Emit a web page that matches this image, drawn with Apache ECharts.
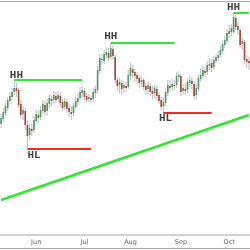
<!DOCTYPE html>
<html>
<head>
<meta charset="utf-8">
<script src="https://cdn.jsdelivr.net/npm/echarts@6/dist/echarts.min.js"></script>
<style>
  html, body { margin: 0; padding: 0; background: #fff; }
  #chart { width: 250px; height: 250px; }
</style>
</head>
<body>
<div id="chart"></div>
<script>
// trading days, starting from this date (weekdays only)
var startDate = '2022-05-10';
var dayCount = 114;
var monthNames = ['Jan', 'Feb', 'Mar', 'Apr', 'May', 'Jun', 'Jul', 'Aug', 'Sep', 'Oct', 'Nov', 'Dec'];

var opens = [111, 116, 122, 127, 134, 138, 143, 147, 145, 131, 121, 124, 110, 100, 106, 105, 114, 120, 118, 124,
  130, 124, 131, 136, 135, 139, 136, 139, 133, 128, 133, 127, 123, 122, 128, 133, 137, 142, 144, 139,
  136, 137, 136, 142, 145, 164, 176, 174, 180, 182, 178, 186, 178, 155, 150, 152, 147, 149, 148, 159,
  166, 163, 160, 157, 153, 155, 149, 146, 149, 144, 142, 146, 140, 135, 129, 132, 142, 149, 148, 150,
  150, 158, 159, 144, 146, 145, 152, 154, 151, 140, 146, 156, 159, 164, 163, 169, 172, 168, 174, 177,
  180, 184, 190, 194, 201, 203, 203, 217, 209, 205, 191, 193, 176, 174];
var closes = [117, 123, 129, 135, 139, 143, 147, 144, 130, 120, 125, 110, 99, 107, 104, 115, 121, 117, 125, 131,
  123, 132, 137, 134, 140, 135, 140, 132, 127, 134, 126, 123, 121, 129, 134, 137, 143, 145, 138, 135,
  138, 135, 143, 146, 165, 177, 175, 181, 183, 177, 187, 179, 155, 149, 153, 146, 150, 147, 160, 167,
  162, 159, 156, 152, 155, 148, 145, 150, 143, 141, 147, 139, 134, 128, 133, 143, 150, 147, 151, 149,
  159, 160, 143, 147, 144, 153, 155, 151, 139, 147, 157, 160, 165, 162, 170, 171, 167, 175, 178, 180,
  185, 191, 195, 202, 204, 207, 218, 208, 205, 190, 194, 175, 173, 172];
var lows = [107, 113, 119, 124, 131, 135, 140, 138, 127, 117, 115, 105, 87, 95, 99, 102, 111, 112, 115, 121,
  119, 120, 127, 129, 131, 132, 133, 129, 124, 125, 122, 118, 115, 119, 126, 129, 134, 137, 135, 132,
  133, 132, 133, 137, 142, 161, 170, 171, 177, 174, 175, 175, 152, 143, 142, 140, 142, 143, 146, 155,
  157, 153, 151, 147, 148, 145, 140, 141, 139, 136, 137, 135, 131, 125, 122, 129, 139, 143, 144, 145,
  147, 153, 139, 140, 141, 142, 148, 145, 135, 135, 144, 153, 157, 158, 160, 165, 163, 165, 172, 174,
  178, 181, 187, 191, 197, 199, 201, 205, 200, 187, 185, 171, 167, 165];
var highs = [121, 127, 132, 138, 143, 147, 155, 152, 147, 135, 129, 127, 115, 111, 111, 119, 125, 124, 129, 135,
  134, 136, 141, 140, 144, 143, 144, 142, 136, 137, 136, 131, 129, 132, 138, 141, 148, 149, 147, 142,
  141, 140, 147, 149, 169, 181, 181, 185, 188, 187, 192, 190, 180, 158, 157, 155, 154, 153, 165, 172,
  170, 166, 163, 160, 158, 157, 152, 153, 152, 149, 150, 149, 143, 138, 137, 147, 155, 155, 156, 155,
  163, 164, 161, 151, 151, 157, 160, 158, 154, 151, 161, 167, 169, 168, 174, 177, 176, 179, 181, 184,
  189, 195, 199, 206, 210, 211, 222, 220, 213, 207, 197, 195, 180, 178];

// swing labels: text, day index, value
var swingNames = ['HH', 'HL', 'HH', 'HL', 'HH'];
var swingIdx = [7, 15, 50, 75, 106];
var swingVals = [160, 80, 199, 117, 228];

// horizontal swing levels: start index, end index, value
var highLevels = [[6, 37, 155], [50, 79, 192], [106, 113, 222]];
var lowLevels = [[12, 41, 86], [74, 96, 122]];
// rising trend line: [index, value] at both ends
var trendLine = [[0, 35], [113, 120]];

var dates = [];
var d = new Date(startDate + 'T00:00:00Z');
while (dates.length < dayCount) {
  var wd = d.getUTCDay();
  if (wd !== 0 && wd !== 6) dates.push(d.toISOString().slice(0, 10));
  d.setUTCDate(d.getUTCDate() + 1);
}
var monthStart = dates.map(function (s, i) {
  return i > 0 && s.slice(5, 7) !== dates[i - 1].slice(5, 7);
});

var upColor = '#4f9a68';
var downColor = '#a9493d';

var myChart = echarts.init(document.getElementById('chart'));

var candles = opens.map(function (o, i) {
  return [i, o, closes[i], lows[i], highs[i]];
});

function levelSeries(lv, color) {
  return lv.map(function (l) {
    return {
      type: 'line',
      data: [[l[0], l[2]], [l[1], l[2]]],
      symbol: 'none',
      silent: true,
      lineStyle: { color: color, width: 2 },
      z: 3
    };
  });
}

var option = {
  animation: false,
  grid: { left: 0, right: 0, top: 1, bottom: 15 },
  xAxis: [
    {
      type: 'category',
      data: dates,
      boundaryGap: true,
      axisLine: { lineStyle: { color: '#d2d2d2', width: 2 } },
      axisTick: {
        alignWithLabel: true,
        length: 2,
        interval: function (i) { return monthStart[i]; },
        lineStyle: { color: '#999' }
      },
      axisLabel: {
        interval: function (i) { return monthStart[i]; },
        formatter: function (v) { return monthNames[+v.slice(5, 7) - 1]; },
        fontSize: 6.5,
        color: '#666',
        margin: 4,
        fontFamily: 'DejaVu Sans'
      },
      splitLine: { show: false }
    },
    {
      type: 'category',
      position: 'top',
      data: dates,
      axisLine: { lineStyle: { color: '#aaa', width: 1 } },
      axisTick: { show: false },
      axisLabel: { show: false }
    }
  ],
  yAxis: { type: 'value', min: 0, max: 234, show: false },
  graphic: [{
    type: 'line',
    shape: { x1: 0, y1: 248.5, x2: 250, y2: 248.5 },
    style: { stroke: '#aaa', lineWidth: 1 }
  }],
  series: [
    {
      type: 'custom',
      data: candles,
      encode: { x: 0, y: [1, 2, 3, 4] },
      renderItem: function (params, api) {
        var x = api.value(0);
        var o = api.coord([x, api.value(1)]);
        var c = api.coord([x, api.value(2)]);
        var lo = api.coord([x, api.value(3)]);
        var hi = api.coord([x, api.value(4)]);
        var w = api.size([1, 0])[0] * 0.75;
        var up = api.value(2) >= api.value(1);
        return {
          type: 'group',
          children: [
            { type: 'line', shape: { x1: o[0], y1: hi[1], x2: o[0], y2: lo[1] }, style: { stroke: '#bdbdbd', lineWidth: 1 } },
            {
              type: 'rect',
              shape: { x: o[0] - w / 2, y: Math.min(o[1], c[1]), width: w, height: Math.max(Math.abs(o[1] - c[1]), 1) },
              style: { fill: up ? upColor : downColor }
            }
          ]
        };
      },
      z: 2
    },
    {
      type: 'line',
      data: trendLine,
      symbol: 'none',
      silent: true,
      lineStyle: { color: '#2ee82e', width: 2.5 },
      z: 3
    },
    {
      type: 'scatter',
      data: swingIdx.map(function (x, i) { return { value: [x, swingVals[i]], name: swingNames[i] }; }),
      symbolSize: 0,
      label: {
        show: true,
        position: 'inside',
        formatter: '{b}',
        fontFamily: 'Liberation Mono',
        fontWeight: 'bold',
        fontSize: 11,
        color: '#111'
      },
      z: 4
    }
  ].concat(levelSeries(highLevels, '#2ee82e'), levelSeries(lowLevels, '#ee2b2b'))
};

option && myChart.setOption(option);
</script>
</body>
</html>
